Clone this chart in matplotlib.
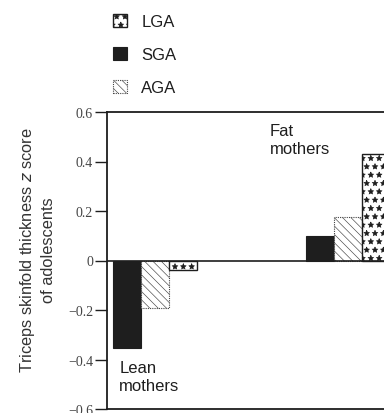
import matplotlib
matplotlib.use("Agg")
import matplotlib.pyplot as plt
import numpy as np

# values
groups = ["Lean\nmothers", "Fat\nmothers"]
sga = [-0.355, 0.10]
aga = [-0.19, 0.175]
lga = [-0.04, 0.43]
yticks = [-0.6, -0.4, -0.2, 0, 0.2, 0.4, 0.6]
ytick_labels = ["\u22120.6", "\u22120.4", "\u22120.2", "0", "0.2", "0.4", "0.6"]

plt.rcParams['font.family'] = ['Liberation Sans', 'DejaVu Sans']
plt.rcParams['hatch.linewidth'] = 0.45
ink = "#1e1e1e"

fig = plt.figure(figsize=(3.84, 4.14), dpi=100)
# axes runs past the right edge, like the cropped original
ax = fig.add_axes([107/384, 4/414, 293/384, 297/414])

starts = np.array([0.0, 6.9])
w = 1.0
b_sga = ax.bar(starts, sga, width=w, color=ink, edgecolor=ink, linewidth=0.8, label="SGA")
b_aga = ax.bar(starts + 1, aga, width=w, color="white", edgecolor="#444444", linewidth=0.8,
               hatch="\\\\\\\\", linestyle=(0, (1, 1)), label="AGA")
b_lga = ax.bar(starts + 2, lga, width=w, color="white", edgecolor=ink, linewidth=1.0,
               hatch="**", label="LGA")

ax.axhline(0, color=ink, linewidth=1.2)

ax.set_xlim(-0.71, 9.75)
ax.set_ylim(-0.6, 0.6)
ax.set_xticks([])
ax.set_yticks(yticks)
ax.set_yticklabels(ytick_labels, family="Liberation Serif", fontsize=10, color="#444444")
ax.tick_params(axis="y", direction="out", length=9, width=1.0, pad=1, color=ink)

for side in ["left", "top", "bottom"]:
    ax.spines[side].set_linewidth(1.3)
    ax.spines[side].set_color(ink)
ax.spines["right"].set_visible(False)

ax.text(-0.27, -0.47, groups[0], fontsize=12, color=ink, va="center", ha="left", linespacing=1.25)
ax.text(5.1, 0.49, groups[1], fontsize=12, color=ink, va="center", ha="left", linespacing=1.25)

fig.text(37/384, 1 - 250/414, "Triceps skinfold thickness $z$ score\nof adolescents",
         rotation=90, ha="center", va="center", fontsize=11.8, color="#333333",
         linespacing=1.3)

fig.legend(handles=[b_lga, b_sga, b_aga], labels=["LGA", "SGA", "AGA"],
           loc="upper left", bbox_to_anchor=(98/384, 1 - 0/414), frameon=False,
           fontsize=12, handlelength=0.85, handleheight=0.85, handletextpad=0.85,
           labelspacing=1.05, labelcolor=ink)

fig.savefig("out.png", dpi=100)
